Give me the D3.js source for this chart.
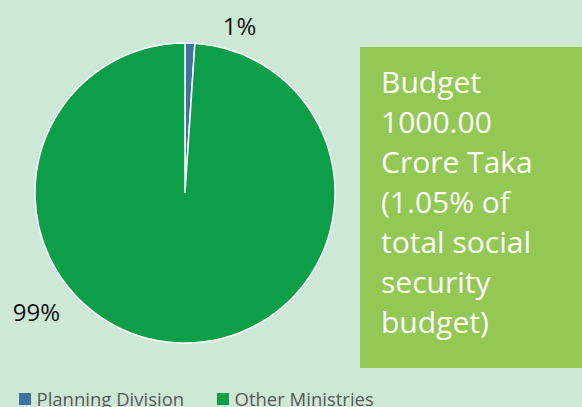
<!DOCTYPE html>
<meta charset="utf-8" />
<script src="https://d3js.org/d3.v7.js"></script>
<style>
  body { margin: 0; background: #cee8d6; }
  text { font-family: "Open Sans", "Liberation Sans", sans-serif; }
</style>
<div id="chart_div"></div>
<script>
  // data
  var categories = ["Planning Division", "Other Ministries"];
  var shares = [1.05, 98.95];
  var shareLabels = ["1%", "99%"];
  var colors = ["#41729f", "#0c9e48"];
  var boxLines = ["Budget", "1000.00", "Crore Taka", "(1.05% of", "total social", "security", "budget)"];

  const width = 582;
  const height = 407;

  const svg = d3
    .select("#chart_div")
    .append("svg")
    .attr("width", width)
    .attr("height", height);

  svg.append("rect")
    .attr("width", width)
    .attr("height", height)
    .attr("fill", "#cee8d6");

  var cx = 185, cy = 193, radius = 150;

  var pie = d3.pie().sort(null).value(function (d) { return d; });
  var arcs = pie(shares);
  var arc = d3.arc().innerRadius(0).outerRadius(radius);

  var pieG = svg.append("g").attr("transform", "translate(" + cx + "," + cy + ")");

  pieG.selectAll("path")
    .data(arcs)
    .enter()
    .append("path")
    .attr("d", arc)
    .attr("fill", function (d, i) { return colors[i]; })
    .style("stroke", "white")
    .style("stroke-width", 1.5);

  // data labels (positioned by hand like the original)
  var labelPos = [[239.5, 34.5], [36.5, 321]];
  svg.selectAll(".pct")
    .data(shareLabels)
    .enter()
    .append("text")
    .attr("class", "pct")
    .attr("x", function (d, i) { return labelPos[i][0]; })
    .attr("y", function (d, i) { return labelPos[i][1]; })
    .attr("text-anchor", "middle")
    .style("font-size", "24px")
    .style("fill", "#111")
    .text(function (d) { return d; });

  // green info box
  svg.append("rect")
    .attr("x", 360)
    .attr("y", 47)
    .attr("width", width - 360)
    .attr("height", 321)
    .attr("fill", "#93c854");

  svg.selectAll(".boxline")
    .data(boxLines)
    .enter()
    .append("text")
    .attr("class", "boxline")
    .attr("x", 381)
    .attr("y", function (d, i) { return 93 + i * 40; })
    .style("font-size", "30px")
    .style("fill", "white")
    .text(function (d) { return d; });

  // legend
  var legendX = [19, 217];
  var legend = svg.selectAll(".legend")
    .data(categories)
    .enter()
    .append("g")
    .attr("class", "legend")
    .attr("transform", function (d, i) { return "translate(" + legendX[i] + ",393)"; });

  legend.append("rect")
    .attr("width", 12)
    .attr("height", 12)
    .attr("fill", function (d, i) { return colors[i]; });

  legend.append("text")
    .attr("x", 17.5)
    .attr("y", 13)
    .style("font-size", "18.5px")
    .style("fill", "#595959")
    .text(function (d) { return d; });
</script>
